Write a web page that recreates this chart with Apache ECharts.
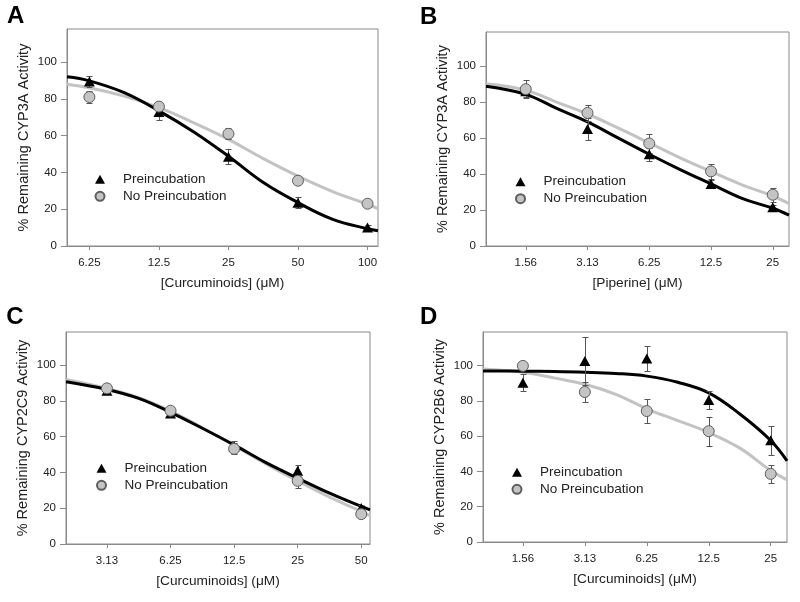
<!DOCTYPE html>
<html><head><meta charset="utf-8">
<script src="https://cdn.jsdelivr.net/npm/echarts@6/dist/echarts.min.js"></script>
<style>html,body{margin:0;padding:0;background:#fff}#c{width:800px;height:602px}</style>
</head><body><div id="c"></div>
<script>
// ---------- DATA ----------
const panelLabels = ['A', 'B', 'C', 'D'];
const yTitles = ['% Remaining CYP3A Activity', '% Remaining CYP3A Activity', '% Remaining CYP2C9 Activity', '% Remaining CYP2B6 Activity'];
const xTitles = ['[Curcuminoids] (\u03BCM)', '[Piperine] (\u03BCM)', '[Curcuminoids] (\u03BCM)', '[Curcuminoids] (\u03BCM)'];
const seriesNames = ['Preincubation', 'No Preincubation'];
const yTickValues = [0, 20, 40, 60, 80, 100];

// Panel A
const tickConcA = [6.25, 12.5, 25, 50, 100];
const tickLabelsA = ['6.25', '12.5', '25', '50', '100'];
const concA = [6.25, 12.5, 25, 50, 100];
const preA = [89.5, 72.8, 48.5, 23.5, 10];
const preErrA = [3, 4.5, 4, 3, 1.5];
const noPreA = [81, 75.8, 61, 35.5, 23];
const noPreErrA = [3.5, 2, 3, 1.5, 1.5];
const fitConcA = [5, 6.25, 8.84, 12.5, 17.7, 25, 35.4, 50, 70.7, 100, 111];
const fitPreA = [92, 89.8, 83.4, 73.5, 62, 48.8, 34.5, 23.6, 14.5, 9.4, 8.3];
const fitNoPreA = [88, 86, 81.5, 75.2, 67, 58, 47.5, 38, 29.6, 22.7, 20.3];

// Panel B
const tickConcB = [1.5625, 3.125, 6.25, 12.5, 25];
const tickLabelsB = ['1.56', '3.13', '6.25', '12.5', '25'];
const concB = [1.5625, 3.125, 6.25, 12.5, 25];
const preB = [86, 65, 51, 34.5, 21.5];
const preErrB = [3, 6.3, 3.5, 2, 1.5];
const noPreB = [87.2, 74, 57, 41.5, 28.5];
const noPreErrB = [5, 4.6, 5.4, 4, 4];
const fitConcB = [1, 1.5625, 2.21, 3.125, 4.42, 6.25, 8.84, 12.5, 17.7, 25, 30];
const fitPreB = [88.8, 84.3, 76.5, 69, 60, 51, 42.5, 34.5, 26.5, 21, 17.2];
const fitNoPreB = [90.2, 86.6, 80, 73.4, 65.5, 57.3, 49, 41.4, 34, 27.8, 23.6];

// Panel C
const tickConcC = [3.125, 6.25, 12.5, 25, 50];
const tickLabelsC = ['3.13', '6.25', '12.5', '25', '50'];
const concC = [3.125, 6.25, 12.5, 25, 50];
const preC = [85.7, 73, 54.5, 40.9, 20.1];
const preErrC = [2, 2, 3, 3, 1.5];
const noPreC = [87, 74.5, 53.2, 35.3, 16.7];
const noPreErrC = [2, 2, 3, 4, 1.5];
const fitConcC = [2, 3.125, 4.42, 6.25, 8.84, 12.5, 17.7, 25, 35.4, 50, 55];
const fitPreC = [90.7, 86.4, 81.4, 73.6, 64.7, 55.4, 45.5, 36.8, 28.4, 21, 19.1];
const fitNoPreC = [92, 87, 81.8, 74.3, 65, 55, 44.8, 35.3, 26.2, 18.2, 15.8];

// Panel D
const tickConcD = [1.5625, 3.125, 6.25, 12.5, 25];
const tickLabelsD = ['1.56', '3.13', '6.25', '12.5', '25'];
const concD = [1.5625, 3.125, 6.25, 12.5, 25];
const preD = [90.3, 102.6, 104, 80.5, 57.6];
const preErrD = [5, 13.5, 7, 5, 8.3];
const noPreD = [99.8, 85, 74.2, 62.8, 38.6];
const noPreErrD = [1.5, 5.5, 7, 8.2, 5];
const fitConcD = [1, 1.5625, 2.21, 3.125, 4.42, 6.25, 8.84, 12.5, 17.7, 25, 30];
const fitPreD = [96.9, 96.8, 96.6, 96.2, 95.5, 94, 90.5, 84.5, 72.5, 57.5, 46];
const fitNoPreD = [98, 96.2, 93, 89.4, 83.7, 75.5, 68.8, 62, 53.2, 40.5, 35.2];

const xRangeA = [5, 111], xRangeB = [1, 30], xRangeC = [2, 55], xRangeD = [1, 30];
const yMaxList = [118, 119, 118.5, 119];

// ---------- LAYOUT / STYLE ----------
const gridBoxes = [
  { left: 67, top: 29, width: 311, height: 217 },
  { left: 486, top: 32, width: 303, height: 214 },
  { left: 66, top: 332, width: 304, height: 212 },
  { left: 483, top: 332, width: 304, height: 210 }
];
const titlePos = [
  { left: 7, top: 4.5 }, { left: 420, top: 5.2 }, { left: 6.3, top: 305.2 }, { left: 420, top: 305.8 }
];
const legendPos = [
  { left: 94.5, top: 172.3 }, { left: 515, top: 174.7 }, { left: 96, top: 461.3 }, { left: 511.5, top: 465.3 }
];
const FONT = "'Liberation Sans', Arial, Helvetica, sans-serif";
const AXIS_COLOR = '#8a8a8a';
const TEXT_COLOR = '#222';
const ICON_TRIANGLE = 'path://M5,0L10,9L0,9Z';
const ICON_CIRCLE = 'path://M0,5A5,5,0,1,0,10,5A5,5,0,1,0,0,5Z';

const panels = [
  { tickConc: tickConcA, tickLabels: tickLabelsA, conc: concA, pre: preA, preErr: preErrA, noPre: noPreA, noPreErr: noPreErrA, fitConc: fitConcA, fitPre: fitPreA, fitNoPre: fitNoPreA, xRange: xRangeA },
  { tickConc: tickConcB, tickLabels: tickLabelsB, conc: concB, pre: preB, preErr: preErrB, noPre: noPreB, noPreErr: noPreErrB, fitConc: fitConcB, fitPre: fitPreB, fitNoPre: fitNoPreB, xRange: xRangeB },
  { tickConc: tickConcC, tickLabels: tickLabelsC, conc: concC, pre: preC, preErr: preErrC, noPre: noPreC, noPreErr: noPreErrC, fitConc: fitConcC, fitPre: fitPreC, fitNoPre: fitNoPreC, xRange: xRangeC },
  { tickConc: tickConcD, tickLabels: tickLabelsD, conc: concD, pre: preD, preErr: preErrD, noPre: noPreD, noPreErr: noPreErrD, fitConc: fitConcD, fitPre: fitPreD, fitNoPre: fitNoPreD, xRange: xRangeD }
];

const lg = Math.log2;

function errorBarRender(params, api) {
  const x = api.value(0), y = api.value(1), e = api.value(2);
  const top = api.coord([x, y + e]);
  const bot = api.coord([x, y - e]);
  const cx = Math.round(top[0]) + 0.5;
  const ty = Math.round(top[1]) + 0.5;
  const by = Math.round(bot[1]) + 0.5;
  const hw = 3;
  const style = { stroke: '#555', lineWidth: 1 };
  return {
    type: 'group',
    children: [
      { type: 'line', shape: { x1: cx, y1: ty, x2: cx, y2: by }, style: style },
      { type: 'line', shape: { x1: cx - hw, y1: ty, x2: cx + hw, y2: ty }, style: style },
      { type: 'line', shape: { x1: cx - hw, y1: by, x2: cx + hw, y2: by }, style: style }
    ]
  };
}

const option = {
  animation: false,
  backgroundColor: '#fff',
  textStyle: { fontFamily: FONT },
  title: [], legend: [], grid: [], xAxis: [], yAxis: [], series: []
};

panels.forEach((p, i) => {
  option.title.push({
    text: panelLabels[i], left: titlePos[i].left, top: titlePos[i].top, padding: 0,
    textStyle: { fontSize: 24, fontWeight: 'bold', color: '#000', fontFamily: FONT }
  });
  option.legend.push({
    orient: 'vertical', left: legendPos[i].left, top: legendPos[i].top, padding: 0,
    itemWidth: 36, itemHeight: 9, itemGap: 3, selectedMode: false, symbolKeepAspect: true,
    textStyle: { fontSize: 13.5, lineHeight: 14, color: TEXT_COLOR, fontFamily: FONT },
    data: [{ name: seriesNames[0], icon: ICON_TRIANGLE }, { name: seriesNames[1], icon: ICON_CIRCLE }]
  });
  option.grid.push(Object.assign({ show: true, borderColor: AXIS_COLOR, borderWidth: 1, backgroundColor: 'transparent' }, gridBoxes[i]));
  const tickVals = p.tickConc.map(lg);
  option.xAxis.push({
    type: 'value', gridIndex: i, min: lg(p.xRange[0]), max: lg(p.xRange[1]),
    axisLine: { show: true, lineStyle: { color: AXIS_COLOR, width: 1 } },
    axisTick: { show: true, inside: false, length: 4, customValues: tickVals, lineStyle: { color: AXIS_COLOR } },
    axisLabel: {
      customValues: tickVals, margin: 11, fontSize: 11.5, color: TEXT_COLOR, fontFamily: FONT,
      formatter: function (v) {
        for (let k = 0; k < tickVals.length; k++) if (Math.abs(tickVals[k] - v) < 1e-6) return p.tickLabels[k];
        return '';
      }
    },
    splitLine: { show: false },
    name: xTitles[i], nameLocation: 'middle', nameGap: 30,
    nameTextStyle: { fontSize: 13.7, color: TEXT_COLOR, fontFamily: FONT }
  });
  option.yAxis.push({
    type: 'value', gridIndex: i, min: 0, max: yMaxList[i],
    axisLine: { show: true, lineStyle: { color: AXIS_COLOR, width: 1 } },
    axisTick: { show: true, inside: false, length: 6, customValues: yTickValues, lineStyle: { color: AXIS_COLOR } },
    axisLabel: { customValues: yTickValues, margin: 10, fontSize: 11.5, color: TEXT_COLOR, fontFamily: FONT },
    splitLine: { show: false },
    name: yTitles[i], nameLocation: 'middle', nameGap: 36,
    nameTextStyle: { fontSize: 14.5, color: TEXT_COLOR, fontFamily: FONT }
  });

  option.series.push({
    type: 'line', name: 'fitNoPre' + i, xAxisIndex: i, yAxisIndex: i, silent: true,
    data: p.fitConc.map((c, k) => [lg(c), p.fitNoPre[k]]),
    smooth: 0.4, symbol: 'none', showSymbol: false, z: 2,
    lineStyle: { color: '#c3c3c3', width: 3 }
  });
  option.series.push({
    type: 'line', name: 'fitPre' + i, xAxisIndex: i, yAxisIndex: i, silent: true,
    data: p.fitConc.map((c, k) => [lg(c), p.fitPre[k]]),
    smooth: 0.4, symbol: 'none', showSymbol: false, z: 3,
    lineStyle: { color: '#000', width: 3 }
  });
  const errData = p.conc.map((c, k) => [lg(c), p.pre[k], p.preErr[k]])
    .concat(p.conc.map((c, k) => [lg(c), p.noPre[k], p.noPreErr[k]]));
  option.series.push({
    type: 'custom', name: 'err' + i, xAxisIndex: i, yAxisIndex: i, silent: true, z: 4,
    dimensions: ['x', 'y', 'e'], encode: { x: 0, y: 1 },
    renderItem: errorBarRender, data: errData
  });
  option.series.push({
    type: 'scatter', name: seriesNames[0], xAxisIndex: i, yAxisIndex: i, z: 5,
    symbol: 'triangle', symbolSize: [11, 10],
    itemStyle: { color: '#000', opacity: 1 },
    data: p.conc.map((c, k) => [lg(c), p.pre[k]])
  });
  option.series.push({
    type: 'scatter', name: seriesNames[1], xAxisIndex: i, yAxisIndex: i, z: 6,
    symbol: 'circle', symbolSize: 11,
    itemStyle: { color: '#c4c4c4', borderColor: '#5e5e5e', borderWidth: 1, opacity: 1 },
    data: p.conc.map((c, k) => [lg(c), p.noPre[k]])
  });
});

const chart = echarts.init(document.getElementById('c'), null, { renderer: 'canvas' });
chart.setOption(option);
</script>
</body></html>
